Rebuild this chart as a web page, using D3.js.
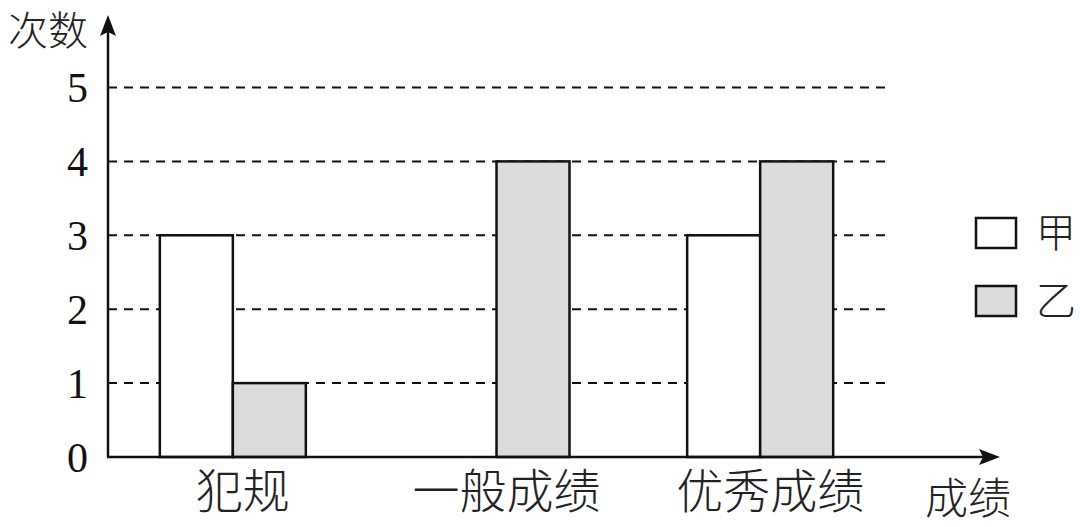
<!DOCTYPE html>
<html>
<head>
<meta charset="utf-8">
<script src="https://cdn.jsdelivr.net/npm/d3@7"></script>
<style>
  html, body { margin: 0; padding: 0; background: #fff; }
  svg { display: block; }
</style>
</head>
<body>
<div id="chart"></div>
<script>
const categories = ['犯规', '一般成绩', '优秀成绩'];
const seriesNames = ['甲', '乙'];
const valuesJia = [3, 0, 3];
const valuesYi = [1, 4, 4];
const yTicks = [0, 1, 2, 3, 4, 5];

const width = 1080, height = 527;
const originX = 108, originY = 457;
const cjk = '"Noto Sans CJK SC", "Noto Sans CJK JP", sans-serif';
const serif = '"Liberation Serif", "DejaVu Serif", serif';

const svg = d3.select('#chart').append('svg')
  .attr('width', width)
  .attr('height', height)
  .attr('viewBox', [0, 0, width, height]);

const y = d3.scaleLinear().domain([0, 5]).range([originY, 87.5]);
const x0 = d3.scaleBand().domain(categories).range([101, 892]);
const x1 = d3.scaleBand().domain(seriesNames).range([-73, 73]);
const color = d3.scaleOrdinal().domain(seriesNames).range(['#ffffff', '#dcdcdc']);

// dashed grid
svg.append('g')
  .selectAll('line')
  .data(yTicks.filter(d => d > 0))
  .join('line')
  .attr('x1', originX)
  .attr('x2', 888)
  .attr('y1', d => y(d))
  .attr('y2', d => y(d))
  .attr('stroke', '#111')
  .attr('stroke-width', 2)
  .attr('stroke-dasharray', '9 7');

// bars
const rows = categories.map((c, i) => ({ cat: c, 甲: valuesJia[i], 乙: valuesYi[i] }));
svg.append('g')
  .selectAll('g')
  .data(rows)
  .join('g')
  .attr('transform', d => `translate(${x0(d.cat) + x0.bandwidth() / 2},0)`)
  .selectAll('rect')
  .data(d => seriesNames.map(s => ({ key: s, value: d[s] })).filter(d => d.value > 0))
  .join('rect')
  .attr('x', d => x1(d.key))
  .attr('width', x1.bandwidth())
  .attr('y', d => y(d.value))
  .attr('height', d => y(0) - y(d.value))
  .attr('fill', d => color(d.key))
  .attr('stroke', '#111')
  .attr('stroke-width', 2.5);

// y axis tick labels
const yAxis = d3.axisLeft(y).tickValues(yTicks).tickSize(0).tickPadding(20).tickFormat(d3.format('d'));
const yg = svg.append('g').attr('transform', `translate(${originX},0)`).call(yAxis);
yg.select('.domain').remove();
yg.selectAll('text')
  .attr('font-family', serif)
  .attr('font-size', 42)
  .attr('fill', '#111')
  .attr('dy', '0.34em');

// x axis category labels
const xAxis = d3.axisBottom(x0).tickSize(0).tickPadding(18);
const xg = svg.append('g').attr('transform', `translate(10,${originY})`).call(xAxis);
xg.select('.domain').remove();
xg.selectAll('text')
  .attr('font-family', cjk)
  .attr('font-weight', 300)
  .attr('font-size', 47)
  .attr('fill', '#222');

// axis lines with arrows
svg.append('line')
  .attr('x1', originX).attr('y1', originY)
  .attr('x2', originX).attr('y2', 30)
  .attr('stroke', '#111').attr('stroke-width', 2.5);
svg.append('path')
  .attr('d', `M${originX},15 L${originX + 8},36 L${originX},32 L${originX - 8},36 Z`)
  .attr('fill', '#111');

svg.append('line')
  .attr('x1', originX - 1).attr('y1', originY)
  .attr('x2', 985).attr('y2', originY)
  .attr('stroke', '#111').attr('stroke-width', 2.5);
svg.append('path')
  .attr('d', `M1000,${originY} L979,${originY - 8} L983,${originY} L979,${originY + 8} Z`)
  .attr('fill', '#111');

// axis titles
svg.append('text')
  .attr('x', 48).attr('y', 31)
  .attr('text-anchor', 'middle')
  .attr('dy', '0.36em')
  .attr('font-family', cjk)
  .attr('font-weight', 300)
  .attr('font-size', 40)
  .attr('fill', '#222')
  .text('次数');

svg.append('text')
  .attr('x', 968).attr('y', 499)
  .attr('text-anchor', 'middle')
  .attr('dy', '0.36em')
  .attr('font-family', cjk)
  .attr('font-weight', 300)
  .attr('font-size', 43)
  .attr('fill', '#222')
  .text('成绩');

// legend
const legend = svg.append('g')
  .selectAll('g')
  .data(seriesNames)
  .join('g')
  .attr('transform', (d, i) => `translate(976,${218 + i * 68})`);
legend.append('rect')
  .attr('width', 40)
  .attr('height', 30)
  .attr('fill', d => color(d))
  .attr('stroke', '#111')
  .attr('stroke-width', 2.5);
legend.append('text')
  .attr('x', 60)
  .attr('y', 15)
  .attr('dy', '0.36em')
  .attr('font-family', cjk)
  .attr('font-weight', 300)
  .attr('font-size', 40)
  .attr('fill', '#222')
  .text(d => d);
</script>
</body>
</html>
